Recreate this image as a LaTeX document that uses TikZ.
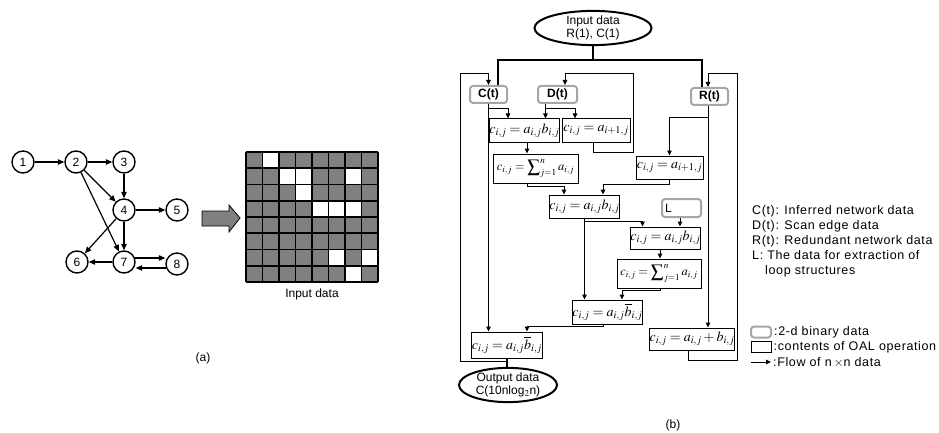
\documentclass[tikz,border=0pt]{standalone}
\usepackage{mathptmx}
\usepackage[no-math]{fontspec}
\setmainfont{Liberation Sans}
\newfontfamily\keyfont{Liberation Sans}[LetterSpace=5]
\usetikzlibrary{arrows.meta,shapes.geometric}

\tikzset{
  txt/.style={font=\fontsize{12}{13}\selectfont},
  keytxt/.style={font=\keyfont\fontsize{12.5}{15}\selectfont},
  vertex/.style={circle, draw, line width=1.4pt, minimum size=22pt, inner sep=0pt, txt},
  edge/.style={line width=1.2pt, -{Triangle[length=6.5pt,width=5.5pt]}},
  oal/.style={draw, line width=1pt, inner sep=0pt, font=\fontsize{14}{15}\selectfont},
  sumbox/.style={oal, font=\fontsize{12.5}{14}\selectfont},
  bin/.style={draw=gray!70, line width=2pt, rounded corners=3pt, inner sep=0pt,
    minimum width=37pt, minimum height=17pt, font=\bfseries\fontsize{12}{13}\selectfont},
  io/.style={ellipse, draw, line width=2pt, inner sep=0pt, align=center, txt},
  flow/.style={line width=1pt, -{Triangle[length=5pt,width=4.5pt]}},
  thickline/.style={line width=2.6pt},
}

\begin{document}
\begin{tikzpicture}[x=1pt, y=-1pt]
  \useasboundingbox (0,0) rectangle (939,433);

  % (a) graph
  \node[vertex] (n1) at (23,162) {1};
  \node[vertex] (n2) at (76,162) {2};
  \node[vertex] (n3) at (124,162) {3};
  \node[vertex] (n4) at (124,210) {4};
  \node[vertex] (n5) at (177,210) {5};
  \node[vertex] (n6) at (77,262) {6};
  \node[vertex] (n7) at (124,262) {7};
  \node[vertex] (n8) at (177,264) {8};
  \foreach \a/\b in {1/2,2/3,3/4,2/4,2/7,4/5,4/7,4/6,7/6}
    \draw[edge] (n\a) -- (n\b);
  \draw[edge] (n7.20) -- (n7.20 -| n8.west);
  \draw[edge] (n8.200) -- (n8.200 -| n7.east);

  % block arrow
  \draw[line width=0.8pt, fill=gray] (202,211) -- (229,211) -- (229,205) -- (240,218)
    -- (229,232) -- (229,226) -- (202,226) -- cycle;

  % adjacency matrix
  \fill[gray] (246,152) rectangle (378,282);
  \foreach \r/\c in {0/1,1/2,1/3,1/6,2/3,3/4,3/5,3/6,6/5,6/7,7/6}
    \fill[white] (246+16.5*\c,152+16.25*\r) rectangle ++(16.5,16.25);
  \foreach \i in {0,...,8} {
    \draw[line width=1.6pt] (246+16.5*\i,152) -- (246+16.5*\i,282);
    \draw[line width=1.6pt] (246,152+16.25*\i) -- (378,152+16.25*\i);
  }
  \node[txt] (cap) at (312,294) {Input data};
  \node[txt] (lbla) at (203,358) {(a)};

  % (b) flow chart
  \node[io, minimum width=117pt, minimum height=31pt] (inp) at (593,28) {Input data\\R(1), C(1)};
  \node[bin] (Ct) at (488.5,94.5) {C(t)};
  \node[bin, minimum width=39pt] (Dt) at (557.5,94.5) {D(t)};
  \node[bin] (Rt) at (709.5,96.5) {R(t)};
  \node[oal, minimum width=67pt, minimum height=23pt] (A) at (524.5,130.5) {$c_{i,j}=a_{i,j}b_{i,j}$};
  \node[oal, minimum width=68pt, minimum height=23pt] (B) at (596,130.5) {$c_{i,j}=a_{i+1,j}$};
  \node[sumbox, minimum width=85pt, minimum height=29pt] (C) at (535.5,168.5) {$c_{i,j}=\displaystyle\sum\nolimits_{j=1}^{n}a_{i,j}$};
  \node[oal, minimum width=67pt, minimum height=23pt] (D) at (669.5,167.5) {$c_{i,j}=a_{i+1,j}$};
  \node[oal, minimum width=67pt, minimum height=23pt] (F) at (584.5,206.5) {$c_{i,j}=a_{i,j}b_{i,j}$};
  \node[bin, minimum width=39pt, minimum height=18pt, font=\fontsize{12}{13}\selectfont,
    text width=33pt, align=left] (L) at (681.5,208) {L};
  \node[oal, minimum width=67pt, minimum height=22pt] (G) at (665.5,238) {$c_{i,j}=a_{i,j}b_{i,j}$};
  \node[sumbox, minimum width=84pt, minimum height=29pt] (I) at (659,273.5) {$c_{i,j}=\displaystyle\sum\nolimits_{j=1}^{n}a_{i,j}$};
  \node[oal, minimum width=67pt, minimum height=24pt] (H) at (607.5,312) {$c_{i,j}=a_{i,j}\overline{b}_{i,j}$};
  \node[oal, minimum width=68pt, minimum height=26pt] (J) at (507,345) {$c_{i,j}=a_{i,j}\overline{b}_{i,j}$};
  \node[oal, minimum width=80pt, minimum height=22pt] (E) at (692,339) {$c_{i,j}=a_{i,j}+b_{i,j}$};
  \node[io, minimum width=98pt, minimum height=34pt] (out) at (508,385) {Output data\\C(10nlog$_2$n)};

  % thick input and output lines
  \draw[thickline] (inp.south) -- ++(0,14) coordinate (split);
  \draw[thickline] (split) -| ([xshift=9.5pt]Ct.north);
  \draw[thickline] (split) -| ([xshift=-7.5pt]Rt.north);
  \draw[thickline] (J.south) -- (J.south |- out.north);

  % feedback loops
  \draw[flow] (J.south) ++(0,3) -- ++(-47,0) -- ++(0,-288) -| (Ct.north);
  \draw[flow] ([xshift=-3pt]B.south) -- ++(0,10) -- ++(40,0) -- ++(0,-79) -| ([xshift=7.5pt]Dt.north);
  \draw[flow] ([xshift=-4pt]E.south) -- ++(0,10) -- ++(49,0) -- ++(0,-287) -| ([xshift=-1.5pt]Rt.north);

  % data flow
  \draw[flow] (Ct.south) -- (Ct.south |- J.north);
  \draw[flow] (Ct.south) -- ++(0,5) -| ([xshift=-16.5pt]A.north);
  \draw[flow] ([xshift=-12pt]Dt.south) -- ([xshift=21pt]A.north);
  \draw[flow] ([xshift=-12pt]Dt.south) -- ++(0,5) -| ([xshift=-21pt]B.north);
  \draw[flow] ([xshift=2.5pt]A.south) -- ([xshift=2.5pt]A.south |- C.north);
  \draw[flow] ([xshift=-1.5pt]Rt.south) -- ([xshift=-1.5pt]Rt.south |- E.north);
  \draw[flow] ([xshift=-1.5pt]Rt.south) -- ++(0,12) -| (D.north);
  \draw[flow] ([xshift=-8.5pt]C.south) -- ++(0,3) -| ([xshift=-20.5pt]F.north);
  \draw[flow] (D.south) -- ++(0,5) -| ([xshift=18.5pt]F.north);
  \draw[flow] (F.south) -- (F.south |- H.north);
  \draw[flow] (F.south) -- ++(0,3) -| ([xshift=-23pt]G.north);
  \draw[flow] ([xshift=-1.5pt]L.south) -- ([xshift=-1.5pt]L.south |- G.north);
  \draw[flow] ([xshift=-5.5pt]G.south) -- ([xshift=-5.5pt]G.south |- I.north);
  \draw[flow] ([xshift=1pt]I.south) -- ++(0,2) -| ([xshift=14.5pt]H.north);
  \draw[flow] ([xshift=-4.5pt]H.south) -- ++(0,2) -| ([xshift=20pt]J.north);

  % legend
  \node[keytxt, anchor=north west, align=left, inner sep=0pt] (legend) at (752,205)
    {C(t): Inferred network data\\D(t): Scan edge data\\R(t): Redundant network data\\
     L: The data for extraction of\\\hspace*{13pt}loop structures};
  \node[bin, minimum width=20pt, minimum height=11pt] (kbin) at (761,332) {};
  \node[keytxt, anchor=west, inner sep=2pt] (kbintxt) at (kbin.east) {:2-d binary data};
  \node[oal, minimum width=20pt, minimum height=11pt] (koal) at (761,347) {};
  \node[keytxt, anchor=west, inner sep=2pt] (koaltxt) at (koal.east) {:contents of OAL operation};
  \coordinate (kflow) at (751,362);
  \node[keytxt, anchor=west, inner sep=2pt] (kflowtxt) at (771,362) {:Flow of n\,$\times$n data};
  \draw[flow] (kflow) -- (kflowtxt.west);

  \node[txt] (lblb) at (673,425) {(b)};
\end{tikzpicture}
\end{document}
